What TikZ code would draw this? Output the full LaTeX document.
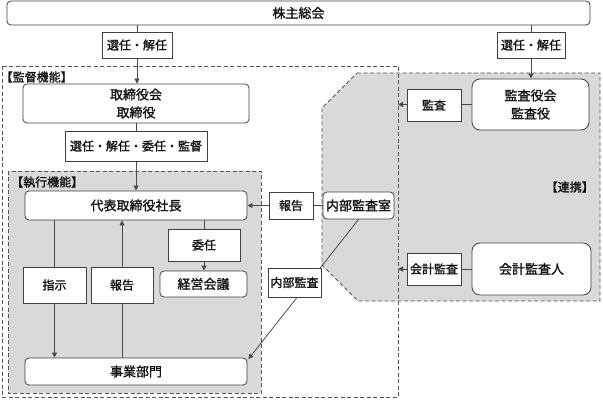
\documentclass[tikz,border=0pt]{standalone}
\usepackage{fontspec}
\setmainfont{Noto Sans CJK JP}[FakeBold=1.3]
\usetikzlibrary{arrows.meta}
\pgfdeclarelayer{back}
\pgfdeclarelayer{mid}
\pgfsetlayers{back,mid,main}
\definecolor{boxline}{HTML}{404040}
\definecolor{linecol}{HTML}{4A4A4A}
\definecolor{grayfill}{HTML}{D9D9D9}
\definecolor{dashcol}{HTML}{555555}
\definecolor{txt}{HTML}{111111}
\tikzset{
  big/.style={font=\fontsize{13pt}{18pt}\selectfont},
  small/.style={font=\fontsize{12pt}{16pt}\selectfont},
  box/.style={draw=boxline, line width=0.8pt, fill=white, inner sep=0pt, align=center, text=txt},
  rbox/.style={box, rounded corners=4pt},
  lbox/.style={box, rounded corners=8pt},
  conn/.style={draw=linecol, line width=0.8pt},
  arr/.style={conn, -{Triangle[length=5pt,width=5pt]}},
  dashline/.style={draw=dashcol, line width=0.8pt, dash pattern=on 4pt off 2.5pt},
  lbl/.style={small, text=txt, inner sep=0pt}
}
\begin{document}
\begin{tikzpicture}[x=1pt,y=-1pt]
\useasboundingbox (0,0) rectangle (603,401);
% nodes
\node[rbox,big,minimum width=583pt,minimum height=24pt] (soukai) at (298.5,13) {株主総会};
\node[box,small,minimum width=70pt,minimum height=26pt] (senL) at (137,45) {選任・解任};
\node[box,small,minimum width=68pt,minimum height=26pt] (senR) at (531,45) {選任・解任};
\node[rbox,big,minimum width=226pt,minimum height=39pt] (tori) at (136,103.5) {取締役会\\取締役};
\node[box,small,minimum width=142pt,minimum height=30pt] (sen4) at (136,146) {選任・解任・委任・監督};
\node[rbox,big,minimum width=222pt,minimum height=29pt] (pres) at (136,205.5) {代表取締役社長};
\node[box,small,minimum width=44pt,minimum height=27pt] (hok1) at (291,205.5) {報告};
\node[rbox,big,minimum width=71pt,minimum height=27pt] (naibu) at (358.5,205.5) {内部監査室};
\node[box,small,minimum width=72pt,minimum height=32pt] (inin) at (204,245) {委任};
\node[rbox,big,minimum width=87pt,minimum height=26pt] (keiei) at (203.5,284) {経営会議};
\node[box,small,minimum width=63pt,minimum height=36pt] (shiji) at (54.5,285) {指示};
\node[box,small,minimum width=62pt,minimum height=36pt] (hok2) at (122,285) {報告};
\node[rbox,big,minimum width=222pt,minimum height=27pt] (jigyo) at (136,371.5) {事業部門};
\node[box,small,minimum width=53pt,minimum height=29pt] (nkansa) at (294.5,282.5) {内部監査};
\node[box,small,minimum width=54pt,minimum height=32pt] (kansa) at (434,105) {監査};
\node[lbox,big,minimum width=117pt,minimum height=51pt] (kyaku) at (530.5,104.5) {監査役会\\監査役};
\node[box,small,minimum width=54pt,minimum height=32pt] (kaikei) at (434,269) {会計監査};
\node[lbox,big,minimum width=119pt,minimum height=52pt] (kaikeinin) at (531.5,269) {会計監査人};
% region labels
\node[lbl,anchor=west] (lkantoku) at (0.5,77) {【監督機能】};
\node[lbl,anchor=west] (lshikko) at (11,182) {【執行機能】};
\node[lbl,anchor=east] (lrenkei) at (594,187) {【連携】};
\coordinate (outerNE) at (398,66);
% regions
\begin{pgfonlayer}{back}
\fill[grayfill] (357,73) -- (600,73) -- (600,301) -- (358,301) -- (322,265) -- (322,108) -- cycle;
\draw[dashline] (357,73) -- (600,73) -- (600,301) -- (358,301) -- (322,265) -- (322,108) -- cycle;
\draw[dashline] (2,66) rectangle (outerNE |- 0,397);
\filldraw[fill=grayfill, dashline] (8,171) rectangle (261,393);
\end{pgfonlayer}
% connectors
\begin{pgfonlayer}{mid}
\draw[arr] (soukai.south -| senL) -- (tori.north -| senL);
\draw[arr] (soukai.south -| senR) -- (kyaku.north -| senR);
\draw[arr] (tori.south) -- (pres.north);
\draw[arr] (naibu.west) -- (pres.east |- naibu.west);
\draw[arr] (pres.south -| inin) -- (keiei.north -| inin);
\draw[arr] (pres.south -| shiji) -- (jigyo.north -| shiji);
\draw[arr] (jigyo.north -| hok2) -- (pres.south -| hok2);
\draw[arr] (naibu.south) -- ([xshift=1pt,yshift=-1.5pt]jigyo.north east);
\draw[arr] (kyaku.west) -- (kyaku.west -| outerNE);
\draw[arr] (kaikeinin.west) -- (kaikeinin.west -| outerNE);
\end{pgfonlayer}
\end{tikzpicture}
\end{document}
